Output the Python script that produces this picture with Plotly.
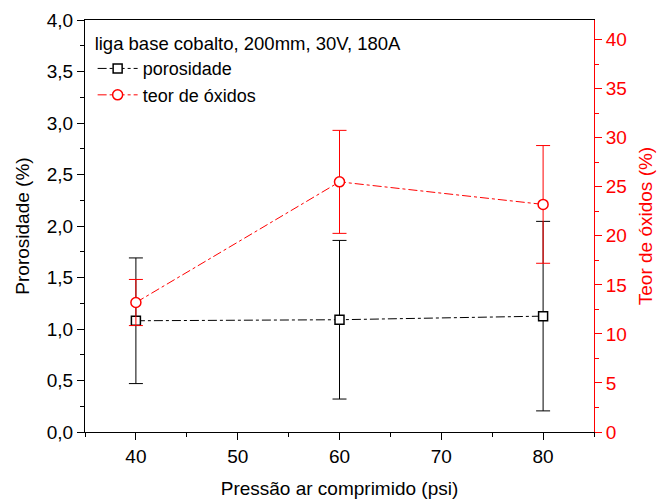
import plotly.graph_objects as go

pressao = [40, 60, 80]
porosidade = [1.08, 1.09, 1.125]
porosidade_err = [0.61, 0.77, 0.92]
oxidos = [13.2, 25.5, 23.2]
oxidos_err = [2.35, 5.25, 6.0]

FONT = "Liberation Sans, Arial, sans-serif"
FS = 19

fig = go.Figure()
fig.add_trace(go.Scatter(
    x=pressao, y=porosidade, name="porosidade", mode="lines+markers",
    line=dict(color="black", width=1, dash="dashdot"),
    marker=dict(symbol="square", size=9, color="white", line=dict(color="black", width=1.5)),
    error_y=dict(type="data", array=porosidade_err, visible=True, color="black", thickness=1, width=7),
    yaxis="y",
))
fig.add_trace(go.Scatter(
    x=pressao, y=oxidos, name="teor de óxidos", mode="lines+markers",
    line=dict(color="red", width=1, dash="dashdot"),
    marker=dict(symbol="circle", size=10, color="white", line=dict(color="red", width=1.5)),
    error_y=dict(type="data", array=oxidos_err, visible=True, color="red", thickness=1, width=7),
    yaxis="y2",
))

fig.update_layout(
    width=658, height=499,
    margin=dict(l=85, r=64, t=20, b=67),
    plot_bgcolor="white", paper_bgcolor="white",
    font=dict(family=FONT, size=FS, color="black"),
    separators=",.",
    showlegend=True,
    legend=dict(
        x=0.015, y=0.985, xanchor="left", yanchor="top",
        bgcolor="rgba(0,0,0,0)",
        title=dict(text="liga base cobalto, 200mm, 30V, 180A", font=dict(size=18.5)),
        font=dict(size=18), tracegroupgap=0, itemwidth=40,
    ),
    xaxis=dict(
        range=[35, 85], dtick=10, tick0=40, ticks="outside", ticklen=7,
        tickcolor="black", linecolor="black", linewidth=1, mirror=True,
        showgrid=False, zeroline=False, automargin=False,
        minor=dict(dtick=5, tick0=35, ticks="outside", ticklen=4, tickcolor="black"),
        title=dict(text="Pressão ar comprimido (psi)", font=dict(size=FS), standoff=15),
        tickfont=dict(size=FS),
    ),
    yaxis=dict(
        range=[0, 4], dtick=0.5, tick0=0, tickformat=".1f", ticks="outside", ticklen=7,
        tickcolor="black", linecolor="black", linewidth=1,
        showgrid=False, zeroline=False, automargin=False,
        minor=dict(dtick=0.25, ticks="outside", ticklen=4, tickcolor="black"),
        title=dict(text="Prorosidade (%)", font=dict(size=FS), standoff=12),
        tickfont=dict(size=FS),
    ),
    yaxis2=dict(
        range=[0, 42], dtick=5, tick0=0, overlaying="y", side="right",
        ticks="outside", ticklen=7, tickcolor="red", linecolor="red", linewidth=1,
        showgrid=False, zeroline=False, automargin=False,
        minor=dict(dtick=2.5, ticks="outside", ticklen=4, tickcolor="red"),
        title=dict(text="Teor de óxidos (%)", font=dict(size=FS, color="red"), standoff=12),
        tickfont=dict(size=FS, color="red"),
    ),
)

fig.write_html("out.html")
